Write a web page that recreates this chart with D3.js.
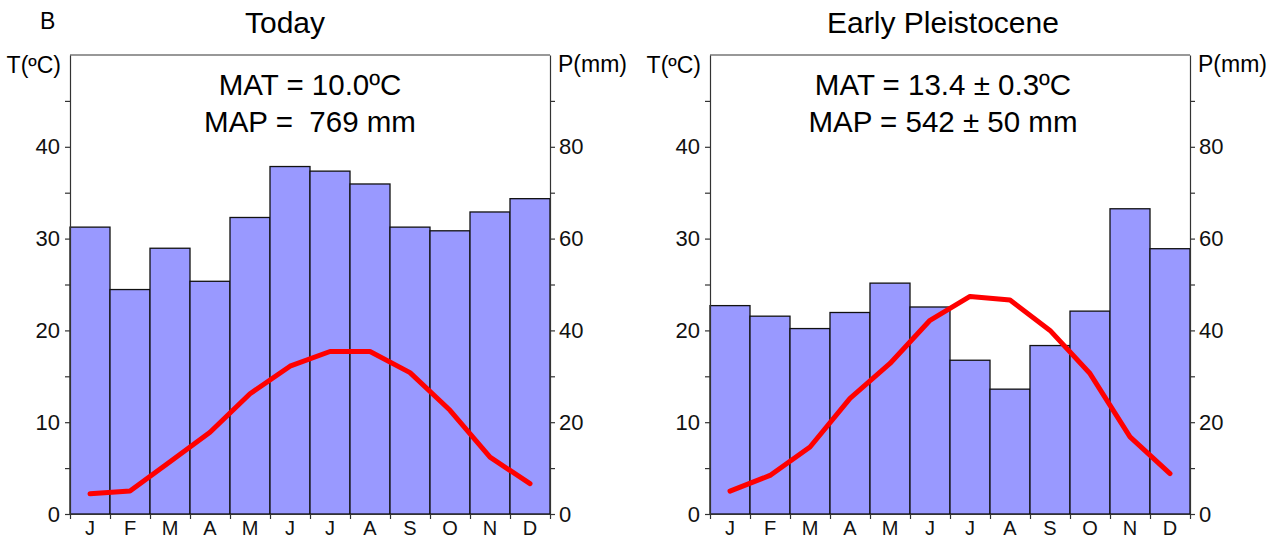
<!DOCTYPE html>
<html>
<head>
<meta charset="utf-8">
<script src="https://cdn.jsdelivr.net/npm/d3@7"></script>
<style>
  body { margin: 0; background: #fff; }
  svg { font-family: "Liberation Sans", Arial, sans-serif; }
  .axis path, .axis line { stroke: #333; stroke-width: 1.2; }
  .axis text { fill: #111; }
</style>
</head>
<body>
<div id="chart"></div>
<script>
'use strict';

// monthly values
const months = ['J', 'F', 'M', 'A', 'M', 'J', 'J', 'A', 'S', 'O', 'N', 'D'];

const todayPrecip = [62.5, 48.9, 57.9, 50.7, 64.6, 75.7, 74.7, 71.9, 62.5, 61.7, 65.8, 68.7];
const todayTemp = [2.2, 2.5, 5.7, 8.9, 13.1, 16.1, 17.7, 17.7, 15.4, 11.3, 6.2, 3.3];

const pleistPrecip = [45.4, 43.1, 40.4, 43.9, 50.3, 45.1, 33.5, 27.2, 36.7, 44.2, 66.5, 57.8];
const pleistTemp = [2.5, 4.2, 7.3, 12.6, 16.4, 21.1, 23.7, 23.3, 20.0, 15.3, 8.4, 4.4];

const tempTicks = [0, 10, 20, 30, 40];
const precipTicks = [0, 20, 40, 60, 80];

const panels = [
    { title: 'Today', letter: 'B', left: 70, titleX: 285, noteX: 310,
      mat: 'MAT = 10.0ºC', map: 'MAP =  769 mm', precip: todayPrecip, temp: todayTemp },
    { title: 'Early Pleistocene', letter: null, left: 710, titleX: 943, noteX: 943,
      mat: 'MAT = 13.4 ± 0.3ºC', map: 'MAP = 542 ± 50 mm', precip: pleistPrecip, temp: pleistTemp }
];

let svg = d3.select('#chart')
    .append('svg')
    .attr('width', 1279)
    .attr('height', 542);

let config = { top: 55, bottom: 514, width: 480 };

let drawPanel = function drawPanel(p) {

    let g = svg.append('g');
    let x0 = p.left;
    let x1 = p.left + config.width;

    let xBand = d3.scaleBand()
        .domain(d3.range(months.length))
        .range([x0, x1])
        .padding(0);

    let xEdge = d3.scaleLinear()
        .domain([0, months.length])
        .range([x0, x1]);

    let yT = d3.scaleLinear()
        .domain([0, 50])
        .range([config.bottom, config.top]);

    let yP = d3.scaleLinear()
        .domain([0, 100])
        .range([config.bottom, config.top]);

    // bars
    g.append('g')
        .selectAll('rect')
        .data(p.precip)
        .enter()
        .append('rect')
        .attr('x', (d, i) => xBand(i))
        .attr('y', d => yP(d))
        .attr('width', xBand.bandwidth())
        .attr('height', d => yP(0) - yP(d))
        .attr('fill', '#9999ff')
        .attr('stroke', '#111')
        .attr('stroke-width', 1.3);

    // temperature line
    let line = d3.line()
        .x((d, i) => xBand(i) + xBand.bandwidth() / 2)
        .y(d => yT(d));

    g.append('path')
        .datum(p.temp)
        .attr('d', line)
        .attr('fill', 'none')
        .attr('stroke', '#ff0000')
        .attr('stroke-width', 5)
        .attr('stroke-linejoin', 'round')
        .attr('stroke-linecap', 'round');

    // left axis
    let leftAxis = d3.axisLeft(yT)
        .tickValues(d3.range(0, 50, 5))
        .tickFormat(d => tempTicks.includes(d) ? d : '')
        .tickSize(5)
        .tickSizeOuter(0)
        .tickPadding(5);

    g.append('g')
        .attr('class', 'axis')
        .attr('transform', 'translate(' + x0 + ',0)')
        .call(leftAxis)
        .selectAll('text')
        .style('font-size', '22px');

    // right axis
    let rightAxis = d3.axisRight(yP)
        .tickValues(d3.range(0, 100, 10))
        .tickFormat(d => precipTicks.includes(d) ? d : '')
        .tickSize(5)
        .tickSizeOuter(0)
        .tickPadding(4);

    g.append('g')
        .attr('class', 'axis')
        .attr('transform', 'translate(' + x1 + ',0)')
        .call(rightAxis)
        .selectAll('text')
        .style('font-size', '22px');

    // bottom axis: ticks on bar edges, labels on bar centres
    let edgeAxis = d3.axisBottom(xEdge)
        .tickValues(d3.range(0, months.length + 1))
        .tickFormat('')
        .tickSize(5)
        .tickSizeOuter(0);

    g.append('g')
        .attr('class', 'axis')
        .attr('transform', 'translate(0,' + config.bottom + ')')
        .call(edgeAxis);

    let monthAxis = d3.axisBottom(xBand)
        .tickFormat(i => months[i])
        .tickSize(0)
        .tickPadding(7);

    let mg = g.append('g')
        .attr('class', 'axis')
        .attr('transform', 'translate(0,' + config.bottom + ')')
        .call(monthAxis);
    mg.select('.domain').remove();
    mg.selectAll('text').style('font-size', '20px');

    // top frame
    g.append('line')
        .attr('x1', x0)
        .attr('x2', x1)
        .attr('y1', yT(50))
        .attr('y2', yT(50))
        .attr('stroke', '#333')
        .attr('stroke-width', 1.2);

    // axis units
    g.append('text')
        .attr('x', x0 - 9)
        .attr('y', 73)
        .attr('text-anchor', 'end')
        .style('font-size', '23px')
        .text('T(ºC)');

    g.append('text')
        .attr('x', x1 + 8)
        .attr('y', 72)
        .style('font-size', '23px')
        .text('P(mm)');

    // titles and notes
    g.append('text')
        .attr('x', p.titleX)
        .attr('y', 33)
        .attr('text-anchor', 'middle')
        .style('font-size', '30px')
        .text(p.title);

    if (p.letter) {
        g.append('text')
            .attr('x', 40)
            .attr('y', 29)
            .style('font-size', '23px')
            .text(p.letter);
    }

    g.append('text')
        .attr('x', p.noteX)
        .attr('y', 95)
        .attr('text-anchor', 'middle')
        .style('font-size', '29.5px')
        .style('white-space', 'pre')
        .text(p.mat);

    g.append('text')
        .attr('x', p.noteX)
        .attr('y', 132)
        .attr('text-anchor', 'middle')
        .style('font-size', '29.5px')
        .style('white-space', 'pre')
        .text(p.map);
}

panels.forEach(drawPanel);
</script>
</body>
</html>
